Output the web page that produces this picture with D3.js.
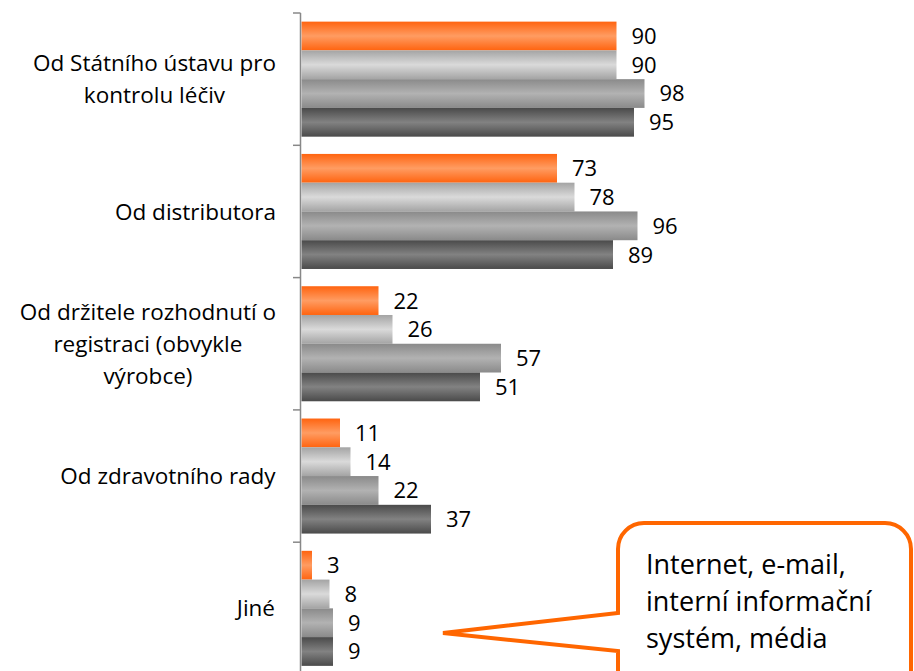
<!DOCTYPE html>
<html>
<head>
<meta charset="utf-8">
<script src="https://cdn.jsdelivr.net/npm/d3@7"></script>
<style>
  body { margin: 0; background: #fff; }
  svg { display: block; font-family: "Open Sans", "Noto Sans", sans-serif; }
</style>
</head>
<body>
<svg id="chart" width="914" height="671"></svg>
<script>
// categories, top to bottom
const categories = [
  ['Od Státního ústavu pro', 'kontrolu léčiv'],
  ['Od distributora'],
  ['Od držitele rozhodnutí o', 'registraci (obvykle', 'výrobce)'],
  ['Od zdravotního rady'],
  ['Jiné']
];
const seriesNames = ['s1', 's2', 's3', 's4'];
const s1 = [90, 73, 22, 11, 3];
const s2 = [90, 78, 26, 14, 8];
const s3 = [98, 96, 57, 22, 9];
const s4 = [95, 89, 51, 37, 9];
const calloutLines = ['Internet, e-mail,', 'interní informační', 'systém, média'];

const seriesValues = [s1, s2, s3, s4];
const gradStops = [
  ['#ff6410', '#ff9c62'],
  ['#a4a4a4', '#dadada'],
  ['#8a8a8a', '#b2b2b2'],
  ['#4a4a4a', '#828282']
];

const svg = d3.select('#chart');
const width = +svg.attr('width');

const catKeys = categories.map((d, i) => i);
const y = d3.scaleBand().domain(catKeys).range([13, 674.5]);
const yInner = d3.scaleBand().domain(seriesNames).range([0, y.bandwidth()]).paddingOuter(0.3);
const x = d3.scaleLinear().domain([0, 175]).range([301.5, width]);

const defs = svg.append('defs');
gradStops.forEach((c, i) => {
  const g = defs.append('linearGradient')
    .attr('id', 'grad' + i)
    .attr('x1', 0).attr('y1', 0).attr('x2', 0).attr('y2', 1);
  g.append('stop').attr('offset', '0%').attr('stop-color', c[0]);
  g.append('stop').attr('offset', '50%').attr('stop-color', c[1]);
  g.append('stop').attr('offset', '100%').attr('stop-color', c[0]);
});

// bars
const rows = [];
catKeys.forEach(ci => {
  seriesNames.forEach((s, si) => {
    rows.push({ cat: ci, series: s, si: si, value: seriesValues[si][ci] });
  });
});

svg.append('g')
  .selectAll('rect')
  .data(rows)
  .enter()
  .append('rect')
  .attr('x', x(0))
  .attr('y', d => y(d.cat) + yInner(d.series))
  .attr('width', d => x(d.value) - x(0))
  .attr('height', yInner.bandwidth())
  .attr('fill', d => 'url(#grad' + d.si + ')');

// value labels
svg.append('g')
  .selectAll('text')
  .data(rows)
  .enter()
  .append('text')
  .attr('x', d => x(d.value) + 15)
  .attr('y', d => y(d.cat) + yInner(d.series) + yInner.bandwidth() / 2)
  .attr('dy', '0.36em')
  .attr('font-size', 22)
  .attr('fill', '#000')
  .text(d => d.value);

// axis line + ticks at band boundaries
const axisG = svg.append('g');
axisG.append('line')
  .attr('x1', 300.5).attr('x2', 300.5)
  .attr('y1', y.range()[0]).attr('y2', y.range()[1])
  .attr('stroke', '#888').attr('stroke-width', 1.5);
axisG.selectAll('.tick')
  .data(catKeys)
  .enter()
  .append('line')
  .attr('x1', 293).attr('x2', 300.5)
  .attr('y1', d => y(d)).attr('y2', d => y(d))
  .attr('stroke', '#888').attr('stroke-width', 1.5);

// category labels: centred block, right edge at 276
const lineH = 32;
categories.forEach((lines, ci) => {
  const g = svg.append('g');
  const t = g.append('text')
    .attr('font-size', 22.5)
    .attr('text-anchor', 'middle')
    .attr('fill', '#000');
  lines.forEach((l, li) => {
    t.append('tspan')
      .attr('x', 0)
      .attr('y', (li - (lines.length - 1) / 2) * lineH)
      .attr('dy', '0.36em')
      .text(l);
  });
  const bb = t.node().getBBox();
  g.attr('transform', `translate(${276 - bb.width / 2},${y(ci) + y.bandwidth() / 2})`);
});

// callout
const cx0 = 618, cy0 = 523, cx1 = 911, cy1 = 700, r = 26;
const tip = [443, 633];
const callPath = d3.path();
callPath.moveTo(cx0 + r, cy0);
callPath.lineTo(cx1 - r, cy0);
callPath.arcTo(cx1, cy0, cx1, cy0 + r, r);
callPath.lineTo(cx1, cy1 - r);
callPath.arcTo(cx1, cy1, cx1 - r, cy1, r);
callPath.lineTo(cx0 + r, cy1);
callPath.arcTo(cx0, cy1, cx0, cy1 - r, r);
callPath.lineTo(cx0, 651);
callPath.lineTo(tip[0], tip[1]);
callPath.lineTo(cx0, 613);
callPath.lineTo(cx0, cy0 + r);
callPath.arcTo(cx0, cy0, cx0 + r, cy0, r);
callPath.closePath();

svg.append('path')
  .attr('d', callPath.toString())
  .attr('fill', '#fff')
  .attr('stroke', '#ff6600')
  .attr('stroke-width', 4)
  .attr('stroke-linejoin', 'miter');

svg.append('text')
  .attr('font-size', 27)
  .attr('fill', '#000')
  .selectAll('tspan')
  .data(calloutLines)
  .enter()
  .append('tspan')
  .attr('x', 646)
  .attr('y', (d, i) => 574 + i * 37)
  .text(d => d);
</script>
</body>
</html>
